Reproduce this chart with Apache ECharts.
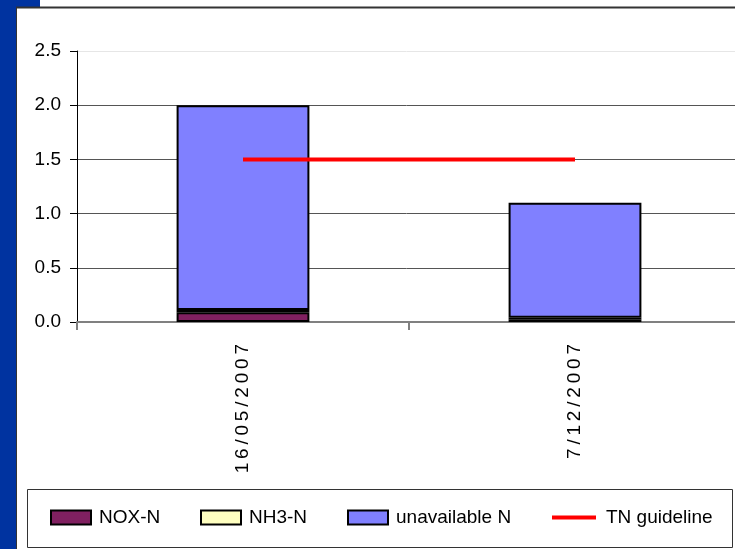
<!DOCTYPE html>
<html>
<head>
<meta charset="utf-8">
<script src="https://cdn.jsdelivr.net/npm/echarts@6/dist/echarts.min.js"></script>
<style>
  html, body { margin: 0; padding: 0; background: #fff; }
  #main { width: 735px; height: 549px; }
</style>
</head>
<body>
<div id="main"></div>
<script>
  // data
  var dates = ['16/05/2007', '7/12/2007'];
  var noxN = [0.09, 0.02];
  var nh3N = [0.02, 0.02];
  var unavailableN = [1.89, 1.06];
  var tnGuideline = [1.5, 1.5];

  var sans = "'Liberation Sans', Arial, sans-serif";

  var myChart = echarts.init(document.getElementById('main'));

  function legendAt(name, left, extra) {
    var l = {
      data: [name],
      left: left,
      top: 508,
      icon: 'rect',
      itemWidth: 40,
      itemHeight: 14,
      itemGap: 0,
      padding: 0,
      textStyle: { fontFamily: sans, fontSize: 19, color: '#000', padding: [0, 0, 0, 3] }
    };
    for (var k in extra) l[k] = extra[k];
    return l;
  }

  var option = {
    backgroundColor: '#fff',
    animation: false,
    graphic: [
      // blue slide frame on the left and top-left corner
      { type: 'rect', shape: { x: 0, y: 0, width: 16, height: 549 }, style: { fill: '#0033a0' }, silent: true },
      { type: 'rect', shape: { x: 0, y: 0, width: 40, height: 7 }, style: { fill: '#0033a0' }, silent: true },
      { type: 'line', shape: { x1: 16, y1: 7.5, x2: 735, y2: 7.5 }, style: { stroke: '#333', lineWidth: 2 }, silent: true },
      { type: 'line', shape: { x1: 16.5, y1: 7, x2: 16.5, y2: 549 }, style: { stroke: '#333', lineWidth: 1 }, silent: true },
      // legend frame
      { type: 'rect', shape: { x: 27.5, y: 489.5, width: 705, height: 58 }, style: { fill: 'none', stroke: '#333', lineWidth: 1 }, silent: true }
    ],
    legend: [
      legendAt('NOX-N', 50),
      legendAt('NH3-N', 200),
      legendAt('unavailable N', 347),
      legendAt('TN guideline', 552, { itemWidth: 44, itemHeight: 4, textStyle: { fontFamily: sans, fontSize: 19, color: '#000', padding: [0, 0, 0, 5] } })
    ],
    grid: {
      left: 77,
      right: -6,
      top: 51,
      bottom: 227,
      containLabel: false,
      outerBoundsMode: 'none'
    },
    xAxis: {
      type: 'category',
      data: dates,
      axisLine: { lineStyle: { color: '#808080', width: 2 } },
      axisTick: { show: true, length: 8, lineStyle: { color: '#808080', width: 2 } },
      axisLabel: {
        rotate: 90,
        margin: 22,
        fontSize: 19,
        fontFamily: sans,
        color: '#000',
        formatter: function (v) { return v.split('').join('\u2009'); }
      },
      splitLine: { show: false }
    },
    yAxis: {
      type: 'value',
      min: 0,
      max: 2.5,
      interval: 0.5,
      axisLine: { show: true, lineStyle: { color: '#000', width: 1 } },
      axisTick: { show: true, length: 7, lineStyle: { color: '#000' } },
      axisLabel: {
        margin: 16,
        fontSize: 19,
        fontFamily: sans,
        color: '#000',
        formatter: function (v) { return v.toFixed(1); }
      },
      splitLine: {
        show: true,
        lineStyle: { color: ['#555', '#555', '#555', '#555', '#555', '#e6e6e6'], width: 1 }
      }
    },
    series: [
      {
        name: 'NOX-N',
        type: 'bar',
        stack: 'n',
        barWidth: '40%',
        data: noxN,
        itemStyle: { color: '#802060', borderColor: '#000', borderWidth: 2 }
      },
      {
        name: 'NH3-N',
        type: 'bar',
        stack: 'n',
        data: nh3N,
        itemStyle: { color: '#ffffc0', borderColor: '#000', borderWidth: 2 }
      },
      {
        name: 'unavailable N',
        type: 'bar',
        stack: 'n',
        data: unavailableN,
        itemStyle: { color: '#8080ff', borderColor: '#000', borderWidth: 2 }
      },
      {
        name: 'TN guideline',
        type: 'line',
        data: tnGuideline,
        symbol: 'none',
        color: '#ff0000',
        lineStyle: { color: '#ff0000', width: 4 },
        itemStyle: { color: '#ff0000' },
        z: 5
      }
    ]
  };

  myChart.setOption(option);
</script>
</body>
</html>
